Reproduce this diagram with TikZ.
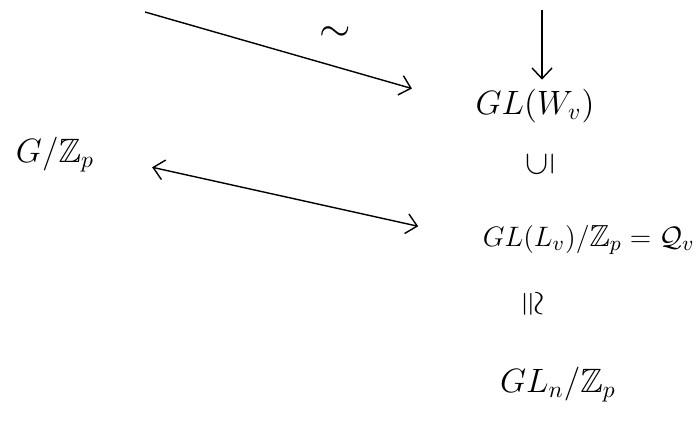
\documentclass[tikz,border=0pt]{standalone}
\usepackage{amsmath,amssymb}
\usepackage{graphicx}
\usepackage{tikz}
\usetikzlibrary{arrows.meta,positioning}

\begin{document}
\begin{tikzpicture}[x=0.015cm, y=-0.015cm,
  grp/.style={font=\Large, inner sep=1pt},
  rel/.style={font=\Large, inner sep=1pt},
  ptr/.style={-{Straight Barb[length=1.6mm,width=3mm]}, semithick},
  dptr/.style={{Straight Barb[length=1.6mm,width=3mm]}-{Straight Barb[length=1.6mm,width=3mm]}, semithick}
]
  \useasboundingbox (0,0) rectangle (698,423);
  % groups on the right
  \node[grp] (wv) at (535,106) {$GL(W_v)$};
  \node[rel] (sub) at (540,164) {\rotatebox{90}{$\subseteq$}};
  \node[grp, font=\fontsize{13}{15}\selectfont, anchor=west] (lv) at (480,240) {$GL(L_v)/\mathbb{Z}_p = \mathcal{Q}_v$};
  \node[rel] (iso) at (531,304) {\rotatebox{-90}{$\cong$}};
  \node[grp] (gln) at (558,385) {$GL_n/\mathbb{Z}_p$};
  % group on the left
  \node[grp] (gz) at (55,155) {$G/\mathbb{Z}_p$};
  % free ends
  \coordinate (top) at (542,10);
  \coordinate (src) at (145,12);
  % arrows
  \draw[ptr, shorten >=1mm] (top) -- (wv.north -| top);
  \draw[ptr, shorten >=9.5mm] (src) -- node[pos=0.58, above=2.5mm, font=\LARGE] {$\sim$} (wv.west);
  \draw[dptr, shorten <=8.5mm, shorten >=9.5mm] (gz.east) -- (lv.west);
\end{tikzpicture}
\end{document}
